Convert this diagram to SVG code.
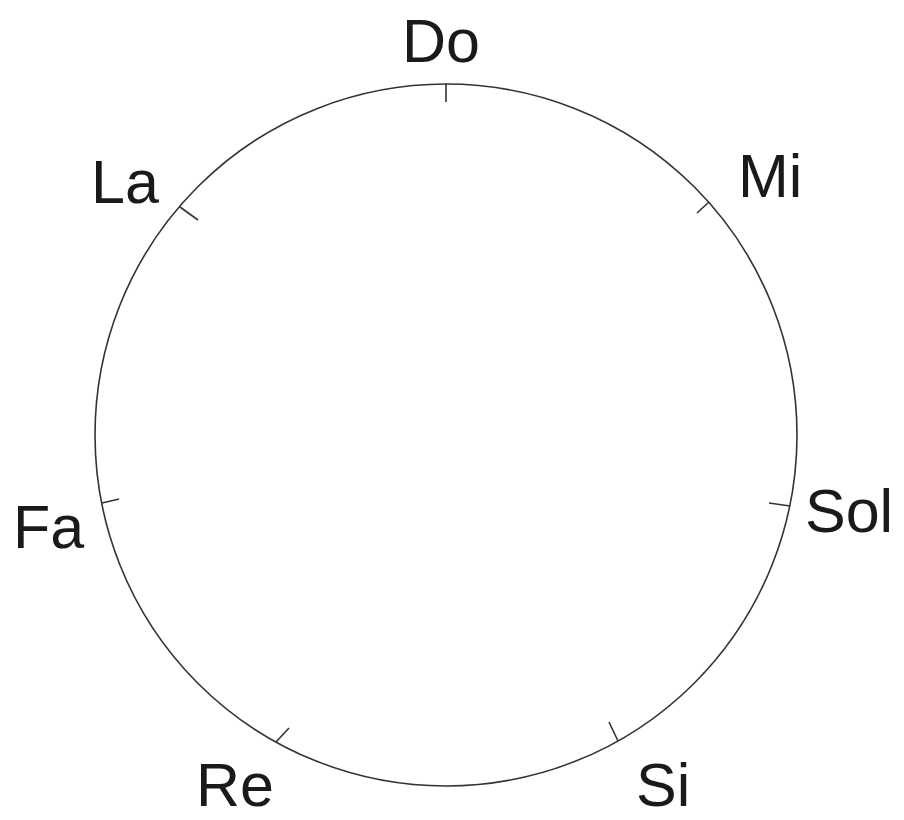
<svg xmlns="http://www.w3.org/2000/svg" width="904" height="820" viewBox="0 0 904 820">
<style>
.c{fill:none;stroke:#333;stroke-width:1.6}
.t{stroke:#333;stroke-width:1.6}
.l{font-family:"Liberation Sans",Arial,sans-serif;font-size:61px;fill:#1a1a1a}
</style>
<rect width="904" height="820" fill="#fff"/>
<g id="connectors">
<circle class="c" cx="446" cy="435" r="351"/>
<line class="t" x1="446" y1="84" x2="446" y2="102"/>
<line class="t" x1="709" y1="202" x2="697" y2="213"/>
<line class="t" x1="180" y1="207" x2="198" y2="220"/>
<line class="t" x1="790" y1="506" x2="769" y2="503"/>
<line class="t" x1="102" y1="503" x2="119" y2="499"/>
<line class="t" x1="276" y1="742" x2="289" y2="728"/>
<line class="t" x1="618" y1="741" x2="609" y2="722"/>
</g>
<g id="do"><text class="l" x="402" y="62">Do</text></g>
<g id="mi"><text class="l" x="738" y="197">Mi</text></g>
<g id="la"><text class="l" x="91" y="203">La</text></g>
<g id="sol"><text class="l" x="805" y="532">Sol</text></g>
<g id="fa"><text class="l" x="13" y="548">Fa</text></g>
<g id="re"><text class="l" x="196" y="806">Re</text></g>
<g id="si"><text class="l" x="636" y="806">Si</text></g>
</svg>
